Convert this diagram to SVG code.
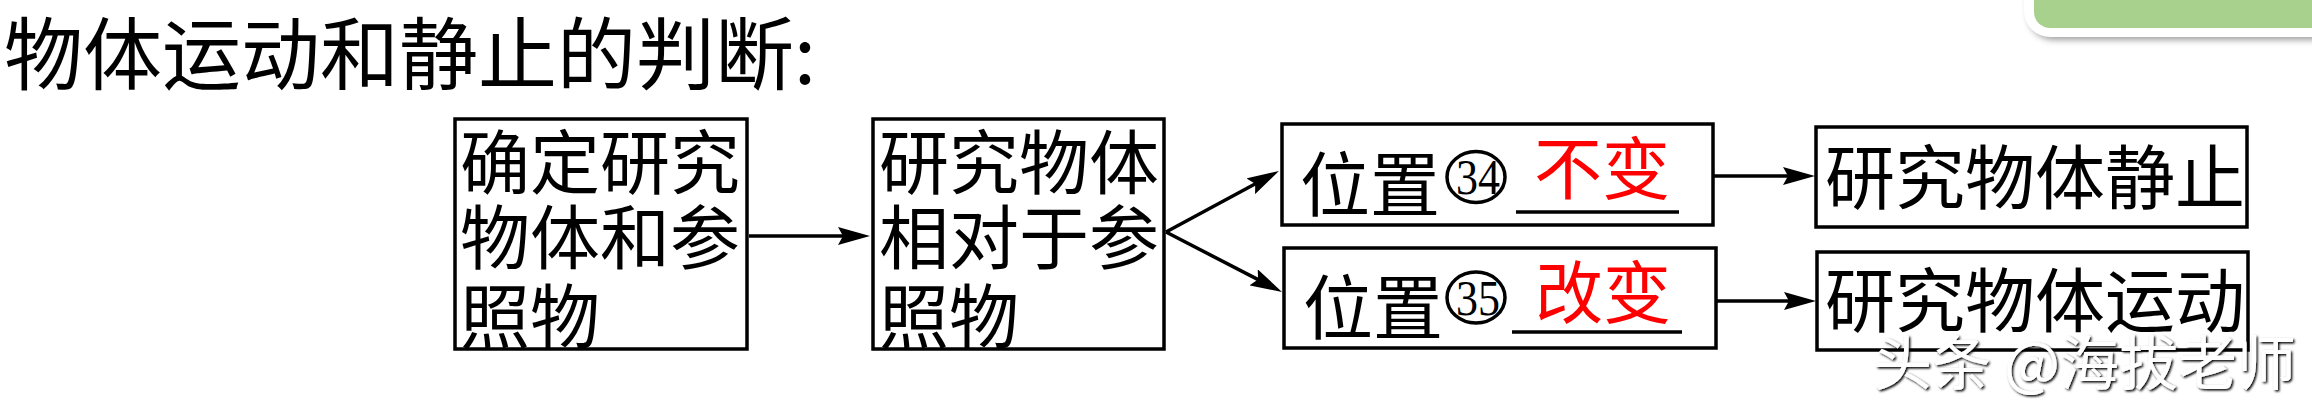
<svg xmlns="http://www.w3.org/2000/svg" width="2312" height="403" viewBox="0 0 2312 403">
<defs>
<style>
.cjk{font-family:"Noto Sans CJK SC","Noto Sans",sans-serif;}
.box{fill:#fff;stroke:#000;stroke-width:3.5;}
.t70{font-size:70px;fill:#000;}
.red{font-size:68px;fill:#ff0000;}
.num{font-family:"Liberation Serif",serif;font-size:50px;fill:#000;text-anchor:middle;}
.circ{fill:none;stroke:#000;stroke-width:3.5;}
.conn{stroke:#000;stroke-width:3.5;fill:none;marker-end:url(#ah);}
.ul{stroke:#000;stroke-width:3.5;}
</style>
<marker id="ah" markerUnits="userSpaceOnUse" viewBox="0 0 32 18" markerWidth="32" markerHeight="18" refX="10" refY="9" orient="auto">
<path d="M0,0 L32,9 L0,18 L5,9 Z" fill="#000"/>
</marker>
<filter id="sh" x="-20%" y="-50%" width="140%" height="200%">
<feGaussianBlur stdDeviation="3"/>
</filter>
<filter id="wm" x="-5%" y="-20%" width="110%" height="140%">
<feDropShadow dx="1.5" dy="1.5" stdDeviation="0.8" flood-color="#000" flood-opacity="1"/>
</filter>
</defs>
<rect width="2312" height="403" fill="#fff"/>

<g id="corner">
<rect x="2028" y="-40" width="320" height="80" rx="26" fill="#888" filter="url(#sh)" opacity="0.8"/>
<rect x="2024" y="-40" width="320" height="77" rx="26" fill="#fff"/>
<rect x="2034" y="-40" width="300" height="68" rx="16" fill="#a9d18e"/>
</g>

<g id="title">
<text class="cjk" x="4" y="84" font-size="79" fill="#000">物体运动和静止的判断:</text>
</g>

<g id="connectors">
<line class="conn" x1="749" y1="236" x2="848" y2="236"/>
<line class="conn" x1="1166" y1="232" x2="1259.6" y2="181.5"/>
<line class="conn" x1="1166" y1="232" x2="1262.5" y2="281.9"/>
<line class="conn" x1="1713" y1="176" x2="1793" y2="176"/>
<line class="conn" x1="1716" y1="301" x2="1794" y2="301"/>
</g>

<g id="node1">
<rect class="box" x="455" y="119" width="292" height="230"/>
<text class="cjk t70" x="460" y="189">确定研究</text>
<text class="cjk t70" x="460" y="264">物体和参</text>
<text class="cjk t70" x="460" y="343">照物</text>
</g>

<g id="node2">
<rect class="box" x="873" y="119" width="291" height="230"/>
<text class="cjk t70" x="879" y="189">研究物体</text>
<text class="cjk t70" x="879" y="264">相对于参</text>
<text class="cjk t70" x="879" y="343">照物</text>
</g>

<g id="node3">
<rect class="box" x="1282" y="124" width="431" height="101"/>
<text class="cjk t70" x="1300" y="211">位置</text>
<ellipse class="circ" cx="1476" cy="177" rx="29" ry="25.5"/>
<text class="num" x="1478" y="194" textLength="44" lengthAdjust="spacingAndGlyphs">34</text>
<line class="ul" x1="1516" y1="212" x2="1679" y2="212"/>
<text class="cjk red" x="1534" y="194">不变</text>
</g>

<g id="node4">
<rect class="box" x="1284" y="248" width="432" height="100"/>
<text class="cjk t70" x="1303" y="334">位置</text>
<ellipse class="circ" cx="1476" cy="297.5" rx="29" ry="25.5"/>
<text class="num" x="1478" y="315" textLength="44" lengthAdjust="spacingAndGlyphs">35</text>
<line class="ul" x1="1512" y1="332" x2="1682" y2="332"/>
<text class="cjk red" x="1535" y="318">改变</text>
</g>

<g id="node5">
<rect class="box" x="1816" y="127" width="431" height="100"/>
<text class="cjk t70" x="1825" y="204">研究物体静止</text>
</g>

<g id="node6">
<rect class="box" x="1817" y="252" width="431" height="98"/>
<text class="cjk t70" x="1825" y="327">研究物体运动</text>
</g>

<g id="watermark">
<text class="cjk" x="1873" y="385" font-size="59" fill="#fff" filter="url(#wm)">头条 @海拔老师</text>
</g>
</svg>
